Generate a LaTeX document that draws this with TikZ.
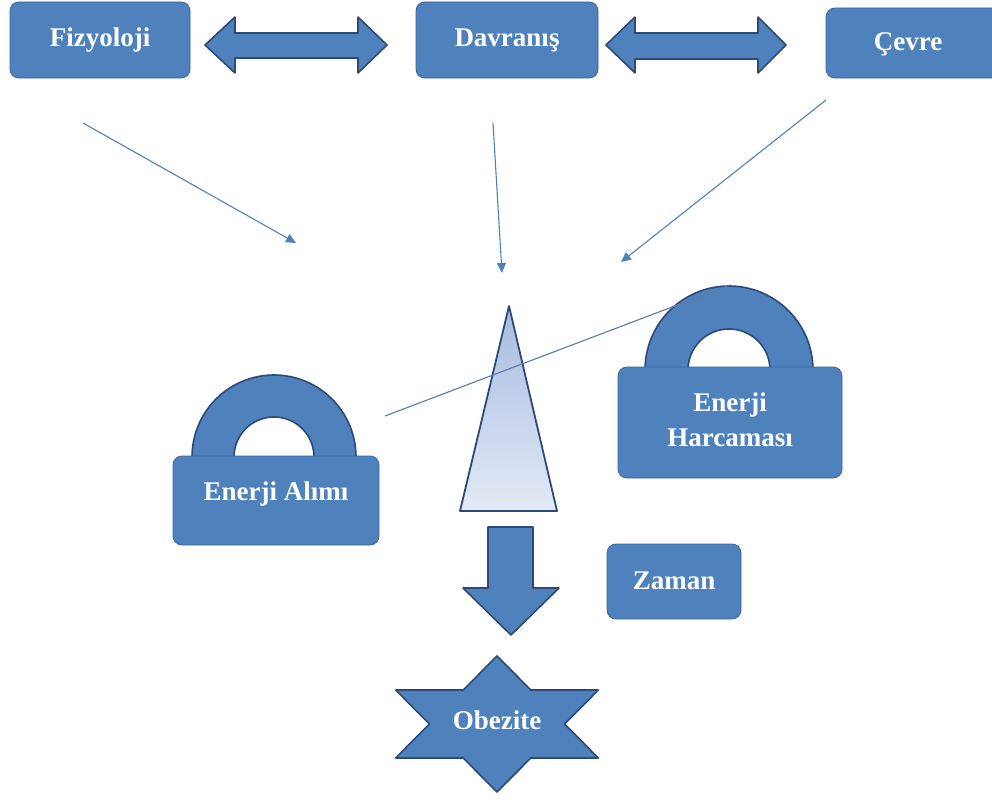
\documentclass[tikz,border=0pt]{standalone}
\usepackage{fontspec}
\setmainfont{Liberation Serif}
\usetikzlibrary{arrows.meta}
\definecolor{boxblue}{HTML}{4F81BD}
\definecolor{edgeblue}{HTML}{3A679C}
\definecolor{darkedge}{HTML}{2C4A78}
\definecolor{linecol}{HTML}{5A7AA8}
\definecolor{trtop}{HTML}{A6BBE0}
\definecolor{trbot}{HTML}{E3EAF6}
\tikzset{
  lbl/.style={text=white, font=\bfseries\fontsize{27}{31}\selectfont, align=center, inner sep=0pt},
  blockbox/.style={fill=boxblue, draw=edgeblue, line width=0.8pt, rounded corners=9pt},
  blockshape/.style={fill=boxblue, draw=darkedge, line width=1.6pt, line join=round},
  thinarrow/.style={draw=boxblue, line width=1.1pt, -{Triangle[length=10pt,width=9pt]}},
}
\begin{document}
\begin{tikzpicture}[x=1pt,y=-1pt]
\useasboundingbox (0,0) rectangle (992,800);
\fill[white] (0,0) rectangle (992,800);

% top boxes
\draw[blockbox] (10,2) rectangle (190,78);
\node[lbl] (fiz) at (100,40) {Fizyoloji};
\draw[blockbox] (416,2) rectangle (598,78);
\node[lbl] (dav) at (507,40) {Davranış};
\draw[blockbox] (826,8) rectangle (1000,78);
\node[lbl] (cev) at (908,44) {Çevre};

% double arrows
\draw[blockshape] (205,45) -- (235,17) -- (235,33) -- (358,33) -- (358,17) -- (387,45)
  -- (358,73) -- (358,58) -- (235,58) -- (235,73) -- cycle;
\draw[blockshape] (606,45) -- (635,17) -- (635,33) -- (758,33) -- (758,17) -- (786,45)
  -- (758,73) -- (758,59) -- (635,59) -- (635,73) -- cycle;

% thin arrows
\coordinate (a1s) at (83,123);  \coordinate (a1e) at (296,243);
\coordinate (a2s) at (493,123); \coordinate (a2e) at (502,273);
\coordinate (a3s) at (826,100); \coordinate (a3e) at (621,262);
\draw[thinarrow] (a1s) -- (a1e);
\draw[thinarrow] (a2s) -- (a2e);
\draw[thinarrow] (a3s) -- (a3e);

% triangle
\shadedraw[top color=trtop, bottom color=trbot, draw=darkedge, line width=1.8pt, line join=round]
  (509,306) -- (557,511) -- (460,511) -- cycle;

% left lock
\draw[blockshape] plot[domain=180:0, samples=60] ({274+82*cos(\x)},{457-82*sin(\x)})
  -- plot[domain=0:180, samples=40] ({274+40*cos(\x)},{457-40*sin(\x)}) -- cycle;
\draw[blockbox, draw=edgeblue] (173,456) rectangle (379,545);
\node[lbl] (alim) at (276,494) {Enerji Alımı};

% right lock
\draw[blockshape] plot[domain=180:0, samples=60] ({729+84*cos(\x)},{370-84*sin(\x)})
  -- plot[domain=0:180, samples=40] ({729+41*cos(\x)},{370-41*sin(\x)}) -- cycle;
\draw[blockbox, draw=edgeblue] (618,367) rectangle (842,478);
\node[lbl] (harc) at (730,420) {Enerji\\[4pt]Harcaması};

% crossing line
\coordinate (l1) at (385,416); \coordinate (l2) at (730,285);
\draw[linecol, line width=1.1pt] (l1) -- (l2);

% down arrow
\draw[blockshape] (488,527) -- (533,527) -- (533,588) -- (559,588) -- (511,635)
  -- (463,588) -- (488,588) -- cycle;

% Zaman
\draw[blockbox] (607,544) rectangle (741,619);
\node[lbl] (zam) at (674,581) {Zaman};

% star
\draw[blockshape] (497,656) -- (463.2,690) -- (395.7,690) -- (429.4,724) -- (395.7,758)
  -- (463.2,758) -- (497,792) -- (530.8,758) -- (598.3,758) -- (564.6,724)
  -- (598.3,690) -- (530.8,690) -- cycle;
\node[lbl] (obe) at (497,720) {Obezite};
\end{tikzpicture}
\end{document}
